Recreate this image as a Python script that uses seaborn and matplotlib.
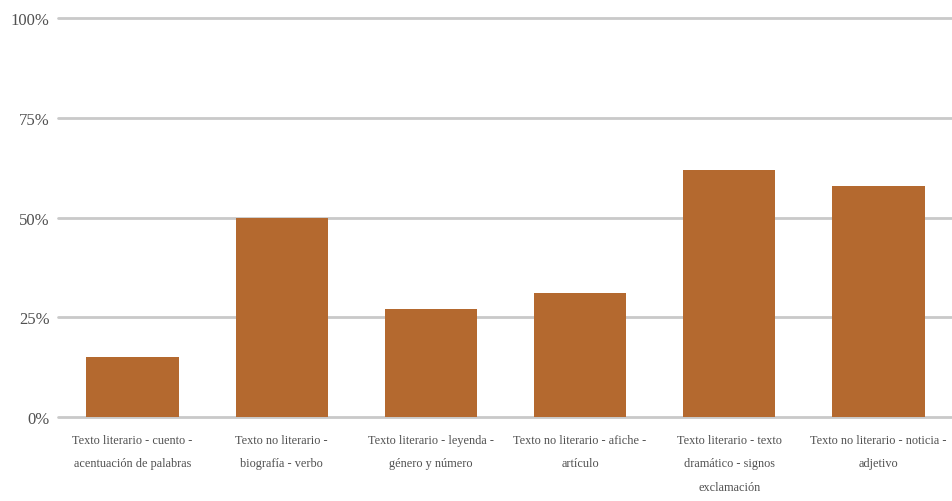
import pandas as pd
import matplotlib
matplotlib.use('Agg')
import matplotlib.pyplot as plt
import seaborn as sns
from matplotlib.ticker import FuncFormatter

# data
categories = [
    'Texto literario - cuento -\nacentuación de palabras',
    'Texto no literario -\nbiografía - verbo',
    'Texto literario - leyenda -\ngénero y número',
    'Texto no literario - afiche -\nartículo',
    'Texto literario - texto\ndramático - signos\nexclamación',
    'Texto no literario - noticia -\nadjetivo',
]
percentages = [15, 50, 27, 31, 62, 58]
y_ticks = [0, 25, 50, 75, 100]

df = pd.DataFrame({'categoria': categories, 'porcentaje': percentages})

sns.set_style('whitegrid', {'grid.color': '#c9c9c9', 'axes.edgecolor': 'white'})
plt.rcParams['font.family'] = ['Liberation Serif', 'DejaVu Serif']

fig = plt.figure(figsize=(9.53, 5.02), dpi=100)
ax = fig.add_axes([58 / 953, 1 - 418 / 502, 1 - 58 / 953, (418 - 19) / 502])

sns.barplot(data=df, x='categoria', y='porcentaje', color='#b4692f',
            saturation=1, width=0.62, linewidth=0, ax=ax)

ax.set_ylim(0, 100)
ax.set_xlim(-0.5, len(categories) - 0.5)
ax.set_yticks(y_ticks)
ax.yaxis.set_major_formatter(FuncFormatter(lambda v, p: f'{v:.0f}%'))
ax.grid(axis='y', linewidth=2, color='#c9c9c9')
ax.grid(axis='x', visible=False)
ax.set_axisbelow(True)
for line in ax.get_ygridlines():
    line.set_clip_on(False)
for s in ax.spines.values():
    s.set_visible(False)

ax.set_xlabel('')
ax.set_ylabel('')
ax.tick_params(axis='y', length=0, pad=6, labelsize=12, labelcolor='#505050')
ax.tick_params(axis='x', length=0, pad=12, labelsize=8.8, labelcolor='#505050')
for lbl in ax.get_xticklabels():
    lbl.set_linespacing(2.3)

fig.savefig('out.png', dpi=100)
